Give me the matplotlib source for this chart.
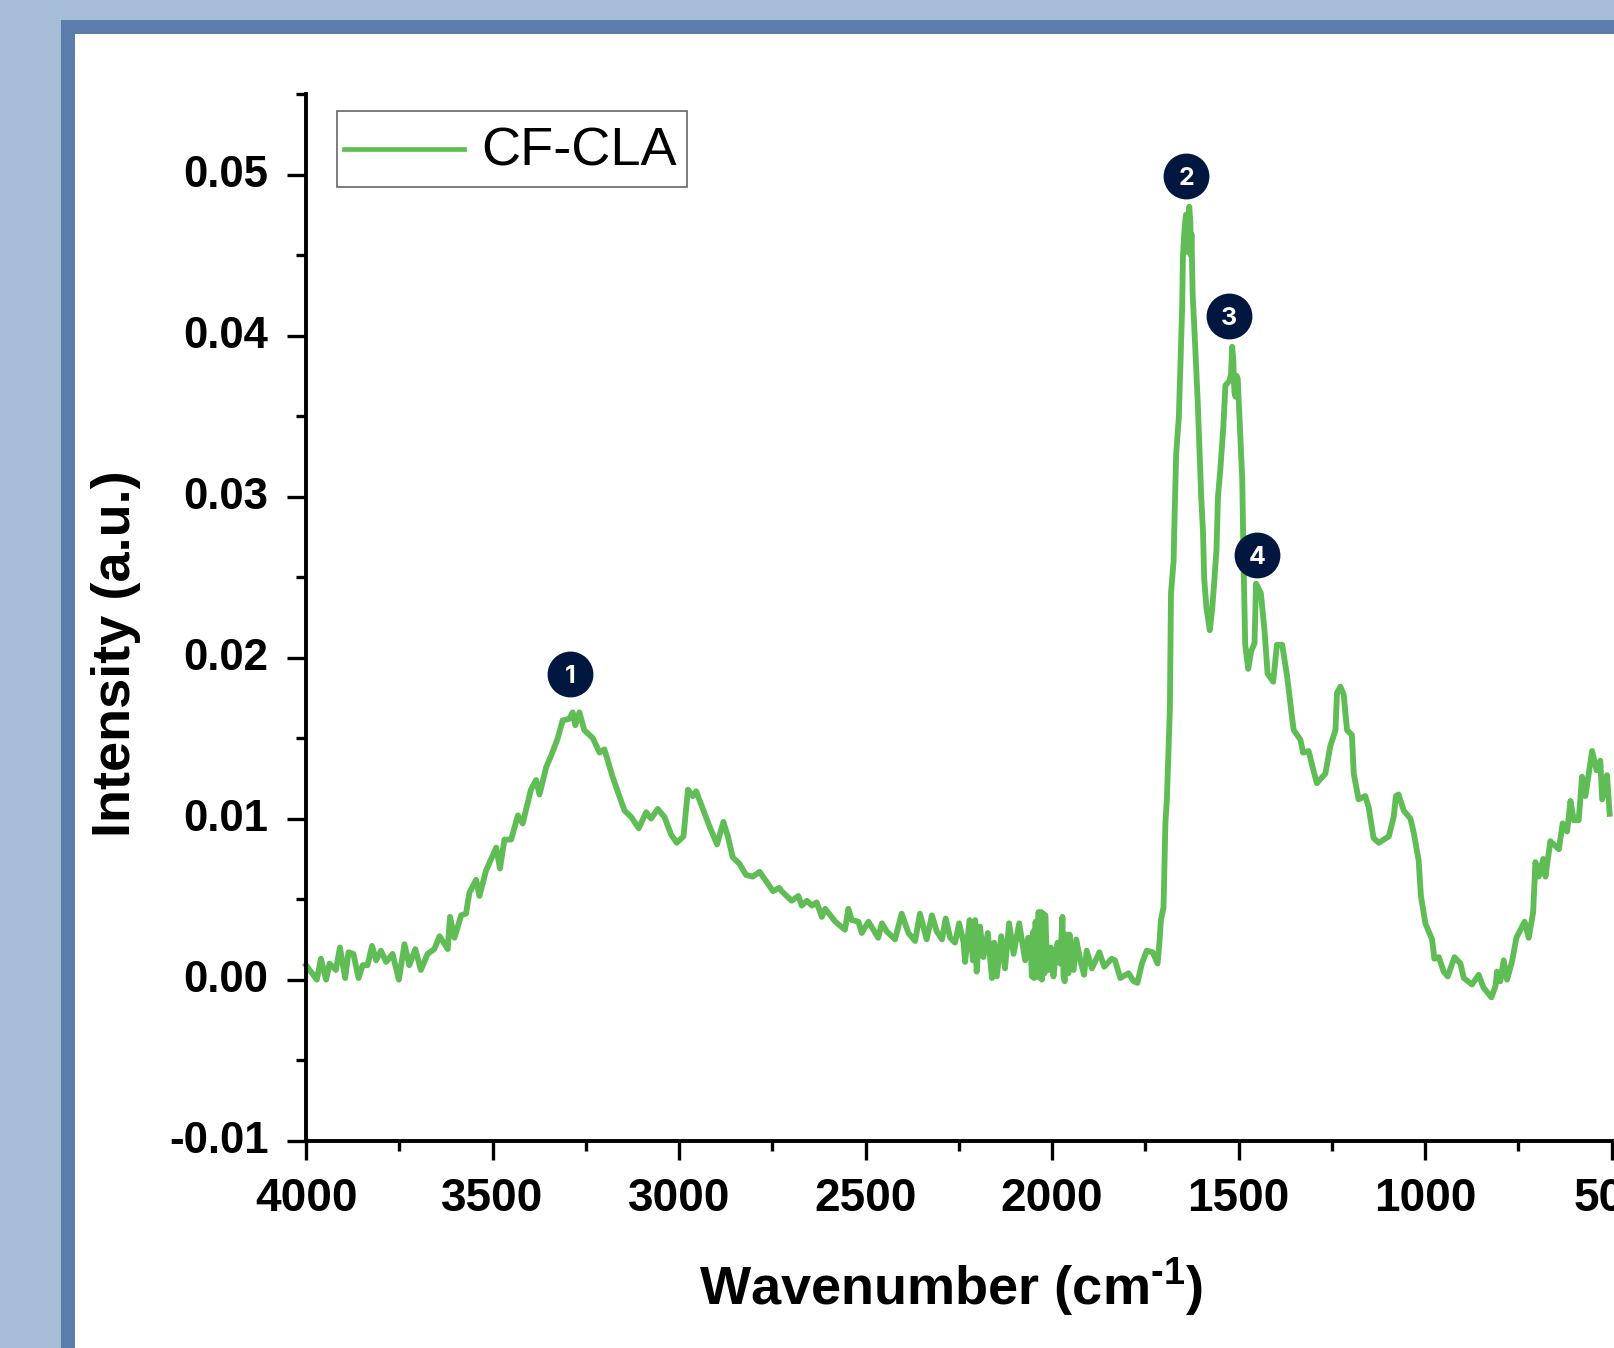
import matplotlib
matplotlib.use('Agg')
import matplotlib.pyplot as plt
from matplotlib.patches import Rectangle
from matplotlib.ticker import MultipleLocator, FormatStrFormatter
from matplotlib.transforms import ScaledTranslation

# spectrum values, section by section
wn_oh = [4000, 3987, 3971, 3960, 3946, 3937, 3920, 3909, 3895, 3886, 3873, 3859, 3848, 3835, 3823, 3812,
         3799, 3785, 3768, 3751, 3736, 3723, 3707, 3692, 3674, 3656, 3642, 3620, 3614, 3602, 3584, 3571,
         3562, 3544, 3535, 3517, 3490, 3480, 3468, 3450, 3432, 3419, 3397, 3383, 3374, 3356, 3343, 3325,
         3312, 3294, 3285, 3278, 3267, 3254, 3231, 3213, 3200, 3178, 3160, 3146, 3128, 3108, 3088, 3075,
         3057, 3039, 3021, 3006, 2988, 2976, 2963, 2954, 2936, 2918, 2898, 2881, 2869, 2856, 2838, 2820,
         2802, 2784, 2766, 2748, 2731]
int_oh = [.0009, .0005, 0, .0013, 0, .0010, .0006, .0020, .0001, .0017, .0016, .0001, .0009, .0009, .0021, .0012,
          .0018, .0011, .0016, 0, .0022, .0009, .0019, .0006, .0016, .0019, .0027, .0019, .0039, .0026, .0040, .0041,
          .0054, .0062, .0052, .0068, .0082, .0069, .0087, .0087, .0102, .0097, .0118, .0124, .0115, .0132, .0139, .0150,
          .0161, .0162, .0166, .0158, .0166, .0155, .0150, .0141, .0143, .0126, .0114, .0105, .0101, .0094, .0104, .0100,
          .0106, .0101, .0090, .0085, .0089, .0118, .0114, .0117, .0106, .0095, .0084, .0098, .0089, .0076, .0072, .0065,
          .0064, .0067, .0061, .0055, .0057]

wn_mid = [2725, 2698, 2680, 2671, 2657, 2644, 2631, 2617, 2608, 2581, 2555, 2546, 2537, 2519, 2510, 2492,
          2466, 2456, 2443, 2421, 2403, 2385, 2367, 2354, 2336, 2322, 2309, 2295, 2285, 2273, 2260, 2249,
          2237, 2233, 2221, 2212, 2206, 2202, 2193, 2184, 2172, 2161, 2155, 2148, 2136, 2126, 2115, 2103,
          2088]
int_mid = [.0055, .0049, .0052, .0046, .0049, .0046, .0048, .0039, .0044, .0036, .0031, .0044, .0037, .0036, .0029, .0036,
           .0026, .0035, .0030, .0025, .0041, .0029, .0024, .0041, .0025, .0040, .0030, .0025, .0038, .0026, .0023, .0035,
           .0023, .0011, .0037, .0012, .0037, .0005, .0033, .0014, .0029, .0001, .0023, .0002, .0027, .0007, .0035, .0016,
           .0035]

# the noisiest stretch around 2000
wn_noise = [2072, 2064, 2058, 2054, 2050, 2048, 2044, 2041, 2036, 2032, 2029, 2027, 2023, 2020, 2018,
            2013, 2009, 2003, 1996, 1990, 1985, 1978, 1972, 1969, 1966, 1960, 1956, 1953, 1948, 1942]
int_noise = [.0012, .0026, .0026, .0002, .0030, .0001, .0036, .0002, .0042, .0001, .0042, 0, .0041, .0004, .0040,
             .0008, .0006, .0020, .0002, .0016, .0023, .0010, .0039, .0002, -.0001, .0028, .0004, .0028, .0008, .0006]

wn_tail = [1935, 1924, 1914, 1907, 1893, 1873, 1860, 1840, 1831, 1817, 1795, 1781, 1771, 1759, 1746, 1730,
           1717, 1712, 1708, 1701, 1696, 1692]
int_tail = [.0025, .0012, .0003, .0018, .0007, .0017, .0008, .0013, .0012, .0001, .0004, -.0001, -.0002, .0010, .0018, .0017,
            .0010, .0023, .0037, .0045, .0097, .0112]

wn_peaks = [1684, 1681, 1674, 1671, 1667, 1660, 1656, 1651, 1649, 1645, 1641, 1638, 1635, 1632, 1629, 1628,
            1626, 1623, 1616, 1609, 1604, 1600, 1595, 1592, 1586, 1577, 1571, 1566, 1559, 1555, 1549, 1541,
            1535, 1524, 1520, 1517, 1514, 1511, 1508, 1505, 1502, 1495, 1490, 1486, 1482, 1474, 1466, 1457,
            1453, 1440, 1430, 1422, 1407, 1397, 1383, 1370]
int_peaks = [.0168, .0240, .0260, .0291, .0327, .0349, .0380, .0418, .0449, .0465, .0475, .0452, .0472, .0480, .0470, .0450,
             .0463, .0426, .0393, .0357, .0325, .0300, .0277, .0249, .0231, .0217, .0229, .0244, .0267, .0300, .0316, .0342,
             .0369, .0372, .0376, .0393, .0385, .0365, .0362, .0375, .0373, .0336, .0311, .0254, .0208, .0193, .0204, .0209,
             .0246, .0240, .0216, .0190, .0185, .0208, .0208, .0189]

wn_low = [1357, 1352, 1334, 1327, 1312, 1298, 1290, 1267, 1254, 1240, 1236, 1227, 1218, 1209, 1196, 1191,
          1178, 1160, 1151, 1138, 1124, 1097, 1084, 1078, 1071, 1057, 1039, 1030, 1017, 1011, 999, 981,
          975, 963, 950, 939, 921, 905, 896, 874, 856, 843, 822, 811, 807, 798, 789, 780,
          767, 755, 733, 722, 710, 704, 695, 683, 677, 664, 641, 631, 619, 610, 601, 588,
          579, 570, 552, 540, 530, 525, 512, 505]
int_low = [.0164, .0155, .0149, .0141, .0142, .0129, .0122, .0128, .0145, .0155, .0178, .0182, .0177, .0155, .0152, .0128,
           .0112, .0114, .0107, .0088, .0085, .0089, .0101, .0114, .0115, .0105, .0100, .0091, .0074, .0052, .0035, .0025,
           .0013, .0014, .0005, .0002, .0014, .0010, .0001, -.0003, .0003, -.0005, -.0011, -.0004, .0005, -.0001, .0012, 0,
           .0011, .0026, .0036, .0026, .0042, .0073, .0064, .0075, .0064, .0086, .0081, .0097, .0092, .0111, .0099, .0099,
           .0126, .0114, .0142, .0130, .0136, .0112, .0127, .0103]

# numbered peak badges
badge_labels = ['1', '2', '3', '4']
badge_wn = [3292, 1640, 1526, 1451]
badge_int = [.0190, .0499, .0412, .0264]

xticks = [4000, 3500, 3000, 2500, 2000, 1500, 1000, 500]

plt.rcParams['font.family'] = ['Liberation Sans', 'DejaVu Sans']
plt.rcParams['axes.unicode_minus'] = False
plt.rcParams['mathtext.fontset'] = 'custom'
plt.rcParams['mathtext.rm'] = 'Liberation Sans:bold'
plt.rcParams['mathtext.default'] = 'rm'

W, H = 1615, 1348
fig = plt.figure(figsize=(W / 100, H / 100), dpi=100, facecolor='#A6BDD7')

# blue frame and white panel run off the right and bottom edges
fig.add_artist(Rectangle((61 / W, 0), 1, 1 - 20 / H, transform=fig.transFigure, fc='#5A7DAC', ec='none', zorder=-2))
fig.add_artist(Rectangle((75.5 / W, 0), 1, 1 - 34 / H, transform=fig.transFigure, fc='white', ec='none', zorder=-1))

ax = fig.add_axes([306 / W, 1 - 1140.7 / H, 1305.5 / W, 1046.7 / H])
ax.patch.set_alpha(0)

wn = wn_oh + wn_mid + wn_noise + wn_tail + wn_peaks + wn_low
intensity = int_oh + int_mid + int_noise + int_tail + int_peaks + int_low
ax.plot(wn, intensity, color='#60BD55', lw=4.2, solid_joinstyle='round', label='CF-CLA', clip_on=False)

ax.plot(badge_wn, badge_int, ls='none', marker='o', ms=33, mfc='#021740', mec='none', zorder=5)
for lab, x, y in zip(badge_labels, badge_wn, badge_int):
    ax.text(x, y, lab, color='white', fontsize=18, fontweight='bold', family='Inter',
            ha='center', va='center_baseline', zorder=6)

ax.set_xlim(4000, 500)
ax.set_ylim(-0.01, 0.055)
ax.set_xticks(xticks)
ax.xaxis.set_minor_locator(MultipleLocator(250))
ax.yaxis.set_major_locator(MultipleLocator(0.01))
ax.yaxis.set_minor_locator(MultipleLocator(0.005))
ax.yaxis.set_major_formatter(FormatStrFormatter('%.2f'))

ax.spines['top'].set_visible(False)
ax.spines['right'].set_visible(False)
ax.spines['left'].set_linewidth(2.8)
ax.spines['bottom'].set_linewidth(2.8)
ax.tick_params(which='major', length=14, width=2.4)
ax.tick_params(which='minor', length=7.5, width=2.4)
ax.tick_params(axis='x', which='major', pad=12, labelsize=33)
ax.tick_params(axis='y', which='major', pad=13, labelsize=31.5)
for t in ax.get_xticklabels() + ax.get_yticklabels():
    t.set_fontweight('bold')
# y tick labels sit a little above their ticks
up = ScaledTranslation(0, 4 / 100, fig.dpi_scale_trans)
for t in ax.get_yticklabels():
    t.set_transform(t.get_transform() + up)

ax.set_xlabel(r'Wavenumber (cm$^{\text{-1}}$)', fontsize=39, fontweight='bold', va='baseline')
ax.xaxis.set_label_coords(0.494, -0.157)
ax.set_ylabel('Intensity (a.u.)', fontsize=39, fontweight='bold', va='baseline', rotation_mode='anchor')
ax.yaxis.set_label_coords(-0.135, 0.465)

leg = ax.legend(loc='upper left', bbox_to_anchor=(31.5 / 1305.5, 1 - 16.7 / 1046.7), borderaxespad=0,
                fontsize=39, handlelength=2.14, handletextpad=0.31, borderpad=0.2, handleheight=1.07,
                fancybox=False, framealpha=1, edgecolor='#666666')
leg.get_frame().set_linewidth(1.2)
leg_line = leg.get_lines()[0]
leg_line.set_linewidth(3.4)
xd = list(leg_line.get_xdata())
leg_line.set_xdata([xd[0] - 3] + xd[1:])
leg_line.set_ydata([v - 3.7 for v in leg_line.get_ydata()])

plt.savefig('out.png', dpi=100)
